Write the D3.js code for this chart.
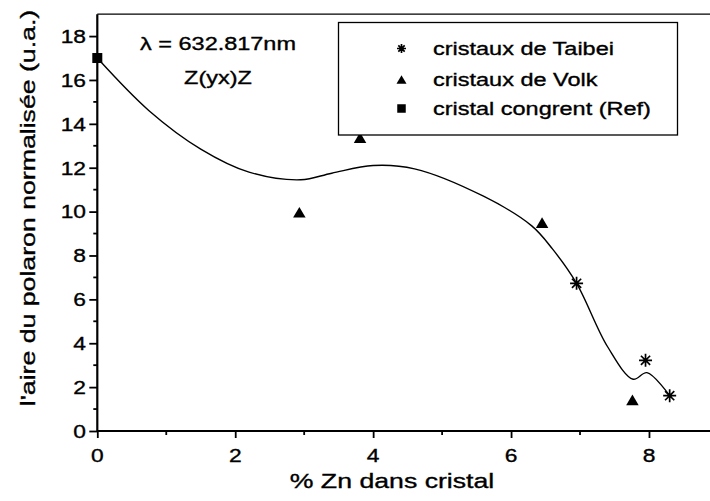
<!DOCTYPE html>
<html><head><meta charset="utf-8">
<script src="https://cdn.jsdelivr.net/npm/d3@7"></script>
<style>body{margin:0;background:#fff}svg{display:block}text{font-family:"Liberation Sans",Arial,sans-serif;fill:#000;stroke:#000;stroke-width:0.35px}</style>
</head><body><svg id="c" width="710" height="501"></svg>
<script>
const taibeiX = [6.95, 7.95, 8.3];
const taibeiY = [6.73, 3.22, 1.61];
const volkX = [2.93, 3.81, 6.45, 7.76];
const volkY = [9.97, 13.37, 9.5, 1.42];
const refX = [0];
const refY = [17.0];
const curveX = [0, 0.75, 1.5, 2.2, 2.95, 3.4, 4.0, 4.6, 5.6, 6.3, 6.6, 6.95, 7.4, 7.77, 7.97, 8.3];
const curveY = [17.0, 14.6, 12.85, 11.8, 11.45, 11.75, 12.1, 11.95, 10.7, 9.35, 8.3, 6.73, 3.84, 2.36, 2.66, 1.61];
const xTicks = [0, 2, 4, 6, 8];
const yTicks = [0, 2, 4, 6, 8, 10, 12, 14, 16, 18];
const legendLabels = ["cristaux de Taibei", "cristaux de Volk", "cristal congrent (Ref)"];
const annot = ["\u03bb = 632.817nm", "Z(yx)Z"];
const xTitle = "% Zn dans cristal";
const yTitle = "l'aire du polaron normalisée (u.a.)";

const svg = d3.select("#c");
const L = 97.3, B = 431;
const x = d3.scaleLinear().domain([0, 9]).range([L, L + 9 * 68.96]);
const y = d3.scaleLinear().domain([0, 19]).range([B, B - 19 * 21.94]);
const SX = 1.27;

function txt(px, py, s, size, anchor, rot, sx) {
  const g = svg.append("g").attr("transform", `translate(${px},${py})` + (rot ? ` rotate(${rot})` : "") + ` scale(${sx || SX},1)`);
  g.append("text").attr("x", 0).attr("y", 0).attr("text-anchor", anchor || "start").attr("font-size", size).text(s);
  return g;
}

// frame top & right
svg.append("line").attr("x1", L).attr("x2", x(9)).attr("y1", y(19)).attr("y2", y(19)).attr("stroke", "#000").attr("stroke-width", 1.3);
svg.append("line").attr("x1", x(9)).attr("x2", x(9)).attr("y1", y(19)).attr("y2", B).attr("stroke", "#000").attr("stroke-width", 1.3);

// axes (ticks through d3 axis, labels drawn stretched)
const xAx = d3.axisBottom(x).tickValues(xTicks).tickSize(7).tickFormat("");
const gx = svg.append("g").attr("transform", `translate(0,${B})`).call(xAx);
const yAx = d3.axisLeft(y).tickValues(yTicks).tickSize(8).tickFormat("");
const gy = svg.append("g").attr("transform", `translate(${L},0)`).call(yAx);
[gx, gy].forEach(g => {
  g.select(".domain").remove();
  g.selectAll(".tick line").attr("stroke", "#000").attr("stroke-width", 1.8);
});
xTicks.forEach(d => txt(x(d), 461.5, d3.format("d")(d), 19, "middle", 0, 1.2));
yTicks.forEach(d => txt(86, y(d) + 6.8, d3.format("d")(d), 19, "end", 0, 1.2));
// minor ticks
svg.append("g").selectAll("line").data([1, 3, 5, 7]).join("line")
  .attr("x1", d => x(d)).attr("x2", d => x(d)).attr("y1", B).attr("y2", B + 4).attr("stroke", "#000").attr("stroke-width", 1.8);
svg.append("g").selectAll("line").data([1, 3, 5, 7, 9, 11, 13, 15, 17]).join("line")
  .attr("x1", L - 4).attr("x2", L).attr("y1", d => y(d)).attr("y2", d => y(d)).attr("stroke", "#000").attr("stroke-width", 1.8);
// axis lines
svg.append("line").attr("x1", L).attr("x2", x(9)).attr("y1", B).attr("y2", B).attr("stroke", "#000").attr("stroke-width", 2.2);
svg.append("line").attr("x1", L).attr("x2", L).attr("y1", y(19)).attr("y2", B).attr("stroke", "#000").attr("stroke-width", 2.2);

// curve
const cpts = curveX.map((d, i) => [d, curveY[i]]);
svg.append("path").datum(cpts)
  .attr("d", d3.line().x(d => x(d[0])).y(d => y(d[1])).curve(d3.curveCatmullRom.alpha(0.5)))
  .attr("fill", "none").attr("stroke", "#000").attr("stroke-width", 1.4);

// markers
function star(g, cx, cy, r) {
  const p = d3.path();
  for (let k = 0; k < 4; k++) {
    const a = k * Math.PI / 4;
    p.moveTo(cx - r * Math.cos(a), cy - r * Math.sin(a));
    p.lineTo(cx + r * Math.cos(a), cy + r * Math.sin(a));
  }
  g.append("path").attr("d", p.toString()).attr("stroke", "#000").attr("stroke-width", 1.7).attr("fill", "none");
}
function tri(g, cx, cy, w) {
  const h = w * 0.85;
  g.append("path").attr("d", `M${cx - w / 2},${cy + h / 2}L${cx + w / 2},${cy + h / 2}L${cx},${cy - h / 2}Z`).attr("fill", "#000");
}
function sq(g, cx, cy, s) {
  g.append("rect").attr("x", cx - s / 2).attr("y", cy - s / 2).attr("width", s).attr("height", s).attr("fill", "#000");
}
const mg = svg.append("g");
taibeiX.forEach((d, i) => star(mg, x(d), y(taibeiY[i]), 6.5));
volkX.forEach((d, i) => tri(mg, x(d), y(volkY[i]), 12.5));
refX.forEach((d, i) => sq(mg, x(d), y(refY[i]), 10));

// annotation
txt(218, 50, annot[0], 18.5, "middle");
txt(218, 84, annot[1], 18.5, "middle");

// legend
svg.append("rect").attr("x", 338.5).attr("y", 22.5).attr("width", 339).attr("height", 112.5)
  .attr("fill", "#fff").attr("stroke", "#000").attr("stroke-width", 1.3);
const rows = [48.5, 79.5, 108.5];
const lg = svg.append("g");
star(lg, 401.5, rows[0], 4.5);
tri(lg, 401.5, rows[1], 10);
sq(lg, 401.5, rows[2], 8.5);
legendLabels.forEach((t, i) => txt(433, rows[i] + 6.8, t, 18.5, "start"));

// axis titles
txt(392, 488, xTitle, 21, "middle");
txt(35, 208, yTitle, 21, "middle", -90);
</script></body></html>
